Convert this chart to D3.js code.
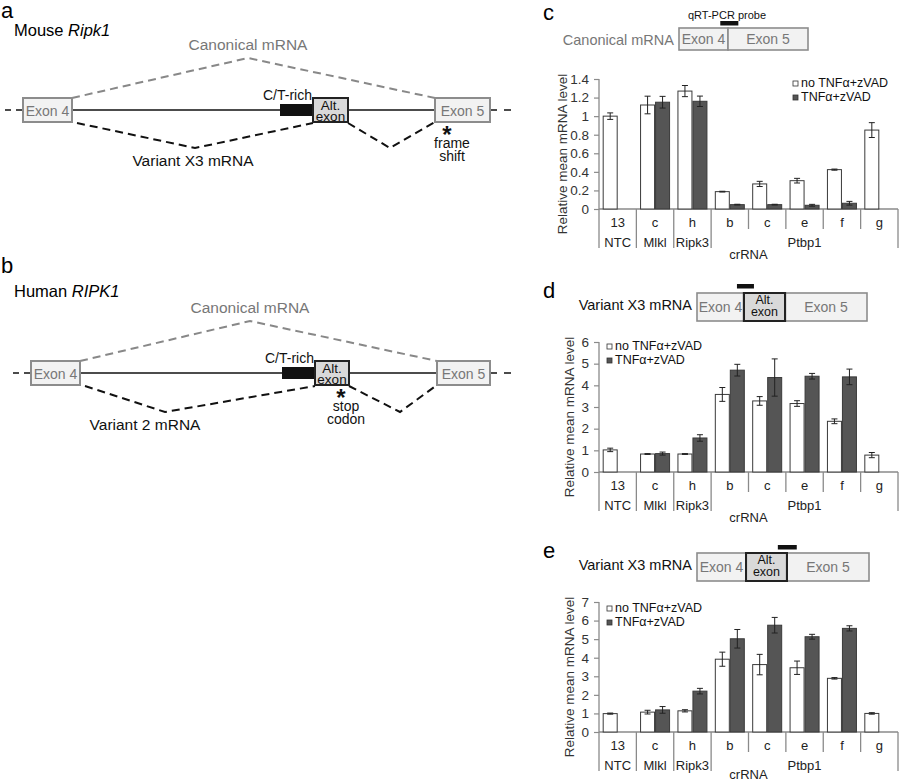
<!DOCTYPE html>
<html>
<head>
<meta charset="utf-8">
<script src="https://cdn.jsdelivr.net/npm/d3@7"></script>
<style>
body { margin: 0; background: #fff; }
text { font-family: Arial, "Liberation Sans", sans-serif; }
</style>
</head>
<body>
<svg id="fig" width="900" height="783"></svg>
<script>
// ---- data ----
const categories = ["13", "c", "h", "b", "c", "e", "f", "g"];
const groupNames = ["NTC", "Mlkl", "Ripk3", "Ptbp1"];
const groupSizes = [1, 1, 1, 5];
const seriesNames = ["no TNFα+zVAD", "TNFα+zVAD"];

// panel c: canonical mRNA
const cNoTnf = [1.00, 1.12, 1.27, 0.187, 0.27, 0.305, 0.424, 0.85];
const cNoTnfErr = [0.035, 0.095, 0.06, 0.004, 0.028, 0.025, 0.006, 0.08];
const cTnf = [null, 1.15, 1.16, 0.047, 0.047, 0.04, 0.062, null];
const cTnfErr = [null, 0.063, 0.056, 0.004, 0.004, 0.01, 0.02, null];

// panel d: variant X3, probe over exon 4 / alt exon
const dNoTnf = [1.02, 0.83, 0.83, 3.58, 3.28, 3.16, 2.34, 0.78];
const dNoTnfErr = [0.08, 0.02, 0.02, 0.32, 0.2, 0.13, 0.11, 0.12];
const dTnf = [null, 0.85, 1.57, 4.70, 4.36, 4.42, 4.39, null];
const dTnfErr = [null, 0.07, 0.15, 0.27, 0.86, 0.13, 0.36, null];

// panel e: variant X3, probe over alt exon / exon 5
const eNoTnf = [0.99, 1.07, 1.14, 3.92, 3.63, 3.46, 2.89, 1.00];
const eNoTnfErr = [0.03, 0.1, 0.06, 0.38, 0.55, 0.36, 0.04, 0.04];
const eTnf = [null, 1.19, 2.20, 5.02, 5.75, 5.13, 5.58, null];
const eTnfErr = [null, 0.18, 0.15, 0.5, 0.42, 0.13, 0.14, null];

const svg = d3.select("#fig");
const axisCol = "#8a8a8a";
const exonStroke = "#8c8c8c";
const exonFill = "#f2f2f2";
const exonText = "#777";
const darkBar = "#555";

// schematic x positions (diagram units)
const gx = d3.scaleLinear().domain([0, 520]).range([0, 520]);

function geneDiagram(o) {
    const g = svg.append("g");
    const top = o.lineY - 12, bot = o.lineY + 12;

    g.append("text").attr("x", 1).attr("y", o.letterY).attr("font-size", 22).text(o.letter);
    const t = g.append("text").attr("x", 14).attr("y", o.titleY).attr("font-size", 16.5);
    t.append("tspan").text(o.species + " ");
    t.append("tspan").attr("font-style", "italic").text(o.gene);

    // intron line + flanking dashes
    g.append("line").attr("x1", gx(o.exon4[1])).attr("x2", gx(o.exon5[0]))
        .attr("y1", o.lineY).attr("y2", o.lineY).attr("stroke", "#111").attr("stroke-width", 1.6);
    g.append("line").attr("x1", gx(o.exon4[0] - 18)).attr("x2", gx(o.exon4[0]))
        .attr("y1", o.lineY).attr("y2", o.lineY).attr("stroke", "#111").attr("stroke-width", 1.6)
        .attr("stroke-dasharray", "6,5");
    g.append("line").attr("x1", gx(o.exon5[1])).attr("x2", gx(o.exon5[1] + 22))
        .attr("y1", o.lineY).attr("y2", o.lineY).attr("stroke", "#111").attr("stroke-width", 1.6)
        .attr("stroke-dasharray", "7,7");

    // canonical splice (grey dashed)
    const line = d3.line();
    g.append("path")
        .attr("d", line([[gx(o.exon4[1]), top], [gx(o.canonApex), top - 40], [gx(o.exon5[0]), top]]))
        .attr("fill", "none").attr("stroke", "#888").attr("stroke-width", 2).attr("stroke-dasharray", "8,5");
    g.append("text").attr("x", gx(o.canonApex)).attr("y", top - 48).attr("text-anchor", "middle")
        .attr("font-size", 15.5).attr("fill", "#777").text("Canonical mRNA");

    // variant splice (black dashed)
    g.append("path")
        .attr("d", line([[gx(o.exon4[1] + 5), bot + 1], [gx(o.varApex[0]), bot + o.varDepth], [gx(o.alt[0]), bot + 1]]))
        .attr("fill", "none").attr("stroke", "#111").attr("stroke-width", 2).attr("stroke-dasharray", "8,5");
    g.append("path")
        .attr("d", line([[gx(o.alt[1]), bot + 1], [gx(o.varApex[1]), bot + o.varDepth], [gx(o.exon5[0]), bot]]))
        .attr("fill", "none").attr("stroke", "#111").attr("stroke-width", 2).attr("stroke-dasharray", "8,5");
    g.append("text").attr("x", gx(o.varLabelX)).attr("y", bot + o.varDepth + 18).attr("text-anchor", "middle")
        .attr("font-size", 15.5).attr("fill", "#111").text(o.variant);

    // exons
    [o.exon4, o.exon5].forEach((e, i) => {
        g.append("rect").attr("x", gx(e[0])).attr("y", top).attr("width", gx(e[1]) - gx(e[0])).attr("height", 24)
            .attr("fill", exonFill).attr("stroke", exonStroke).attr("stroke-width", 2);
        g.append("text").attr("x", (gx(e[0]) + gx(e[1])) / 2).attr("y", o.lineY + 5.5).attr("text-anchor", "middle")
            .attr("font-size", 14).attr("fill", exonText).text(i === 0 ? "Exon 4" : "Exon 5");
    });
    g.append("rect").attr("x", gx(o.ct[0])).attr("y", o.lineY - 6).attr("width", gx(o.ct[1]) - gx(o.ct[0])).attr("height", 12)
        .attr("fill", "#111");
    g.append("text").attr("x", gx(o.ct[1]) - 1).attr("y", top + 2).attr("text-anchor", "end")
        .attr("font-size", 14).attr("fill", "#111").text("C/T-rich");
    g.append("rect").attr("x", gx(o.alt[0])).attr("y", top).attr("width", gx(o.alt[1]) - gx(o.alt[0])).attr("height", 24)
        .attr("fill", "#d9d9d9").attr("stroke", "#222").attr("stroke-width", 2);
    const ac = (gx(o.alt[0]) + gx(o.alt[1])) / 2;
    const at = g.append("text").attr("x", ac).attr("y", top + 12).attr("text-anchor", "middle")
        .attr("font-size", 13.5).attr("fill", "#111");
    at.append("tspan").attr("x", ac).text("Alt.");
    at.append("tspan").attr("x", ac).attr("dy", 11).text("exon");

    // asterisk note: one text element, lines as tspans
    const nt = g.append("text").attr("x", gx(o.noteX)).attr("y", bot + 21).attr("text-anchor", "middle")
        .attr("fill", "#111");
    nt.append("tspan").attr("x", gx(o.noteX)).attr("font-size", 24).attr("font-weight", "bold").text("*");
    o.note.forEach((s, i) => {
        nt.append("tspan").attr("x", gx(o.noteX + 5)).attr("dy", i === 0 ? 5 : 13).attr("font-size", 14).text(s);
    });
}

geneDiagram({
    letter: "a", letterY: 18, species: "Mouse", gene: "Ripk1", titleY: 36, lineY: 110,
    exon4: [23, 72], ct: [280, 313], alt: [313, 348], exon5: [435, 490],
    canonApex: 248, varApex: [195, 390], varDepth: 26, varLabelX: 193,
    variant: "Variant X3 mRNA", noteX: 447, note: ["frame", "shift"]
});
geneDiagram({
    letter: "b", letterY: 273, species: "Human", gene: "RIPK1", titleY: 297, lineY: 373,
    exon4: [31, 80], ct: [282, 315], alt: [315, 349], exon5: [437, 490],
    canonApex: 250, varApex: [165, 400], varDepth: 27, varLabelX: 145,
    variant: "Variant 2 mRNA", noteX: 341, note: ["stop", "codon"]
});

// ---- transcript header above each bar chart ----
function transcriptBox(o) {
    const g = svg.append("g");
    g.append("text").attr("x", 543).attr("y", o.letterY).attr("font-size", 22).text(o.letter);
    if (o.probeLabel) {
        g.append("text").attr("x", 727).attr("y", o.top - 9).attr("text-anchor", "middle")
            .attr("font-size", 11).attr("fill", "#111").text(o.probeLabel);
    }
    g.append("text").attr("x", o.x0 - 5).attr("y", o.top + 17).attr("text-anchor", "end")
        .attr("font-size", 14.5).attr("fill", o.titleCol).text(o.title);
    const bx = d3.scaleLinear().domain([0, 1]).range([o.x0, o.x1]);
    const h = o.h;
    o.parts.forEach(p => {
        g.append("rect").attr("x", bx(p.a)).attr("y", o.top).attr("width", bx(p.b) - bx(p.a)).attr("height", h)
            .attr("fill", p.alt ? "#d9d9d9" : exonFill)
            .attr("stroke", p.alt ? "#222" : exonStroke).attr("stroke-width", p.alt ? 2 : 1.6);
        const cx = (bx(p.a) + bx(p.b)) / 2;
        if (p.alt) {
            const at = g.append("text").attr("x", cx).attr("y", o.top + 11).attr("text-anchor", "middle")
                .attr("font-size", 12.5).attr("fill", "#111");
            at.append("tspan").attr("x", cx).text("Alt.");
            at.append("tspan").attr("x", cx).attr("dy", 11.5).text("exon");
        } else {
            g.append("text").attr("x", cx).attr("y", o.top + h / 2 + 5).attr("text-anchor", "middle")
                .attr("font-size", 14).attr("fill", exonText).text(p.name);
        }
    });
    // redraw alt exon so its dark border sits on top
    o.parts.filter(p => p.alt).forEach(p => {
        g.append("rect").attr("x", bx(p.a)).attr("y", o.top).attr("width", bx(p.b) - bx(p.a)).attr("height", h)
            .attr("fill", "none").attr("stroke", "#222").attr("stroke-width", 2);
    });
    g.append("rect").attr("x", bx(o.probe[0])).attr("y", o.probeY).attr("width", bx(o.probe[1]) - bx(o.probe[0]))
        .attr("height", 4.5).attr("fill", "#111");
}

transcriptBox({
    letter: "c", letterY: 20, title: "Canonical mRNA", titleCol: "#777", probeLabel: "qRT-PCR probe",
    x0: 679, x1: 808, top: 28, h: 22, probeY: 21,
    parts: [{name: "Exon 4", a: 0, b: 0.38}, {name: "Exon 5", a: 0.38, b: 1}],
    probe: [0.32, 0.46]
});
transcriptBox({
    letter: "d", letterY: 298, title: "Variant X3 mRNA", titleCol: "#111",
    x0: 697, x1: 867, top: 293, h: 28, probeY: 284,
    parts: [{name: "Exon 4", a: 0, b: 0.276}, {name: "Exon 5", a: 0.518, b: 1}, {alt: true, a: 0.276, b: 0.518}],
    probe: [0.235, 0.335]
});
transcriptBox({
    letter: "e", letterY: 558, title: "Variant X3 mRNA", titleCol: "#111",
    x0: 697, x1: 869, top: 553, h: 28, probeY: 545,
    parts: [{name: "Exon 4", a: 0, b: 0.285}, {name: "Exon 5", a: 0.523, b: 1}, {alt: true, a: 0.285, b: 0.523}],
    probe: [0.47, 0.58]
});

// ---- bar charts ----
function barChart(o) {
    const g = svg.append("g");
    const x = d3.scaleBand().domain(d3.range(categories.length)).range([599, 898]);
    const y = d3.scaleLinear().domain([0, o.max]).range([o.zero, o.top]);
    const bw = x.bandwidth();
    const barW = 15;

    const yAxis = d3.axisLeft(y)
        .tickValues(d3.range(0, o.max + 1e-9, o.step))
        .tickSize(5).tickPadding(5)
        .tickFormat(d3.format("~g"));
    g.append("g").attr("transform", "translate(599,0)").call(yAxis)
        .call(a => a.select(".domain").remove())
        .call(a => a.selectAll(".tick line").attr("stroke", axisCol).attr("stroke-width", 1.2))
        .call(a => a.selectAll(".tick text").attr("font-size", 13.5).attr("fill", "#333")
            .attr("font-family", "Arial, 'Liberation Sans', sans-serif"));

    g.append("line").attr("x1", 599).attr("x2", 599).attr("y1", o.top).attr("y2", o.zero + 39)
        .attr("stroke", axisCol).attr("stroke-width", 1.3);
    g.append("line").attr("x1", 599).attr("x2", 898).attr("y1", o.zero).attr("y2", o.zero)
        .attr("stroke", axisCol).attr("stroke-width", 1.3);

    g.append("text")
        .attr("transform", `translate(${o.titleX},${(o.top + o.zero) / 2 + 10}) rotate(-90)`)
        .attr("text-anchor", "middle").attr("font-size", 13.5).attr("fill", "#333")
        .text("Relative mean mRNA level");

    // category separators: long at group edges
    const groupEdges = d3.cumsum([0].concat(groupSizes));
    d3.range(1, categories.length + 1).forEach(i => {
        const xx = i < categories.length ? x(i) : 898;
        const long = groupEdges.includes(i);
        g.append("line").attr("x1", xx).attr("x2", xx).attr("y1", o.zero).attr("y2", o.zero + (long ? 39 : 20))
            .attr("stroke", axisCol).attr("stroke-width", 1.3);
    });

    g.selectAll(".cat").data(categories).join("text")
        .attr("x", (d, i) => x(i) + bw / 2).attr("y", o.zero + 18)
        .attr("text-anchor", "middle").attr("font-size", 13).attr("fill", "#222").text(d => d);
    g.selectAll(".grp").data(groupNames).join("text")
        .attr("x", (d, i) => (x(groupEdges[i]) + (groupEdges[i + 1] < categories.length ? x(groupEdges[i + 1]) : 898)) / 2)
        .attr("y", o.zero + 38)
        .attr("text-anchor", "middle").attr("font-size", 13).attr("fill", "#222").text(d => d);
    g.append("text").attr("x", (599 + 898) / 2).attr("y", Math.min(o.zero + 50, 779)).attr("text-anchor", "middle")
        .attr("font-size", 13).attr("fill", "#222").text("crRNA");

    const series = [
        {vals: o.noTnf, errs: o.noTnfErr, fill: "#fff", dx: -barW},
        {vals: o.tnf, errs: o.tnfErr, fill: darkBar, dx: 0}
    ];
    series.forEach(s => {
        const pts = s.vals.map((v, i) => ({v, e: s.errs[i], i})).filter(d => d.v !== null);
        g.selectAll(null).data(pts).join("rect")
            .attr("x", d => x(d.i) + bw / 2 + s.dx + 0.5)
            .attr("y", d => y(d.v))
            .attr("width", barW - 1)
            .attr("height", d => y(0) - y(d.v))
            .attr("fill", s.fill).attr("stroke", "#3a3a3a").attr("stroke-width", 1);
        pts.forEach(d => {
            const cx = x(d.i) + bw / 2 + s.dx + barW / 2;
            const y1 = y(d.v + d.e), y2 = y(d.v - d.e);
            g.append("line").attr("x1", cx).attr("x2", cx).attr("y1", y1).attr("y2", y2).attr("stroke", "#222").attr("stroke-width", 1);
            [y1, y2].forEach(yy => g.append("line").attr("x1", cx - 3).attr("x2", cx + 3).attr("y1", yy).attr("y2", yy)
                .attr("stroke", "#222").attr("stroke-width", 1));
        });
    });

    // legend
    seriesNames.forEach((name, i) => {
        const ly = o.legY + i * 14;
        g.append("rect").attr("x", o.legX).attr("y", ly - 6).attr("width", 5).attr("height", 5)
            .attr("fill", i === 0 ? "#fff" : darkBar).attr("stroke", "#333").attr("stroke-width", 0.8);
        g.append("text").attr("x", o.legX + 8).attr("y", ly).attr("font-size", 12.5).attr("fill", "#111").text(name);
    });
}

barChart({max: 1.4, step: 0.2, top: 79, zero: 209, titleX: 567, legX: 793, legY: 87,
    noTnf: cNoTnf, noTnfErr: cNoTnfErr, tnf: cTnf, tnfErr: cTnfErr});
barChart({max: 6, step: 1, top: 342, zero: 472, titleX: 574, legX: 607, legY: 350,
    noTnf: dNoTnf, noTnfErr: dNoTnfErr, tnf: dTnf, tnfErr: dTnfErr});
barChart({max: 7, step: 1, top: 602, zero: 732, titleX: 574, legX: 607, legY: 612,
    noTnf: eNoTnf, noTnfErr: eNoTnfErr, tnf: eTnf, tnfErr: eTnfErr});
</script>
</body>
</html>
